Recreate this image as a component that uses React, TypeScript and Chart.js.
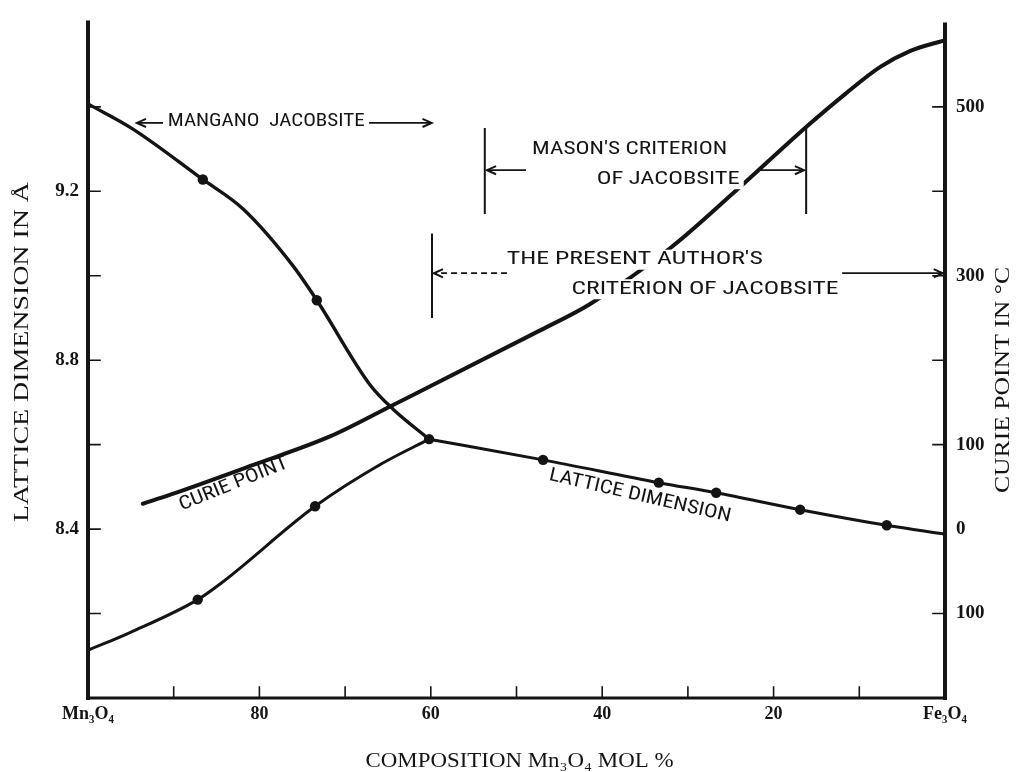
import React, { useEffect, useRef } from "react";
import { Chart, registerables } from "chart.js";

Chart.register(...registerables);

// ---------- data ----------
// composition: Mn3O4 mol %  (100 = Mn3O4, 0 = Fe3O4)
const upperBranchComp = [100, 94.8, 86.6, 81.9, 76.1, 73.3, 67.1, 64.4, 60.2];
const upperBranchLattice = [9.407, 9.348, 9.228, 9.158, 9.024, 8.942, 8.742, 8.684, 8.613];

const lowerBranchComp = [100, 95.1, 87.2, 84.4, 73.5, 65.8, 60.2];
const lowerBranchLattice = [8.113, 8.155, 8.233, 8.273, 8.454, 8.554, 8.613];

const cubicComp = [60.2, 46.9, 33.4, 26.7, 16.9, 6.8, 0];
const cubicLattice = [8.613, 8.564, 8.51, 8.486, 8.446, 8.409, 8.388];

const markerComp = [86.6, 73.3, 60.2, 46.9, 33.4, 26.7, 16.9, 6.8, 87.2, 73.5];
const markerLattice = [9.228, 8.942, 8.613, 8.564, 8.51, 8.486, 8.446, 8.409, 8.233, 8.454];

const curieComp = [93.6, 90.3, 80.7, 71.7, 64.4, 47.3, 41.5, 31.9, 24.8, 16.1, 11.55, 7.6, 4.1, 0];
const curieTemp = [30, 41, 76, 110, 147, 235, 266, 334, 397, 477, 516, 547, 566, 579];

// ---------- axes ----------
const xTickValues = [100, 80, 60, 40, 20, 0];
const xTickLabels = ["Mn\u2083O\u2084", "80", "60", "40", "20", "Fe\u2083O\u2084"];
const xTickMarks = [90, 80, 70, 60, 50, 40, 30, 20, 10];

const latticeTickValues = [9.2, 8.8, 8.4];
const latticeTickLabels = ["9.2", "8.8", "8.4"];
const latticeTickMarks = [8.2, 8.4, 8.6, 8.8, 9.0, 9.2, 9.4];

const curieTickValues = [500, 300, 100, 0, -100];
const curieTickLabels = ["500", "300", "100", "0", "100"];
const curieTickMarks = [-100, 100, 200, 300, 400, 500];

const xTitle = "COMPOSITION Mn\u2083O\u2084 MOL %";
const leftTitle = "LATTICE DIMENSION IN \u00C5";
const rightTitle = "CURIE POINT IN \u00B0C";

const INK = "#141414";
const SERIF = '"Liberation Serif", "DejaVu Serif", serif';
const NARROW = '"Liberation Sans Narrow", "Roboto Condensed", "DejaVu Sans Condensed", "Liberation Sans", sans-serif';

// annotation placement (composition %, temperature on right axis)
const annot = {
  mangano: { y: 481, leftArrow: [91.25, 94.3], textC: 79.2, textW: 197, rightArrow: [67.2, 59.9] },
  mason: {
    bars: [53.7, 16.2], barTop: 475, barBottom: 373,
    arrowY: 425, leftArrow: [48.9, 53.45], rightArrow: [21.8, 16.45],
    line1: { c: 36.8, t: 449.5, w: 195, s: "MASON'S CRITERION" },
    line2: { c: 32.3, t: 414.3, w: 143, s: "OF JACOBSITE" },
  },
  present: {
    bar: 59.86, barTop: 350, barBottom: 250,
    arrowY: 303, leftArrow: [51.1, 59.65], rightArrow: [12.0, 0.25],
    line1: { c: 36.2, t: 319, w: 256, s: "THE PRESENT AUTHOR'S" },
    line2: { c: 28.0, t: 284, w: 267, s: "CRITERION OF JACOBSITE" },
  },
  curieLabel: { c: 83.0, t: 53, w: 116, angle: -22, s: "CURIE POINT" },
  latticeLabel: { c: 35.6, t: 39, w: 186, angle: 13, s: "LATTICE DIMENSION" },
};

function arrowLine(ctx: CanvasRenderingContext2D, x1: number, y1: number, x2: number, y2: number, dash?: number[]) {
  ctx.save();
  ctx.strokeStyle = INK;
  ctx.lineWidth = 1.8;
  ctx.setLineDash(dash || []);
  ctx.beginPath();
  ctx.moveTo(x1, y1);
  ctx.lineTo(x2, y2);
  ctx.stroke();
  ctx.setLineDash([]);
  const ang = Math.atan2(y2 - y1, x2 - x1);
  const L = 10, W = 0.42;
  ctx.lineWidth = 2;
  ctx.beginPath();
  ctx.moveTo(x2 - L * Math.cos(ang - W), y2 - L * Math.sin(ang - W));
  ctx.lineTo(x2, y2);
  ctx.lineTo(x2 - L * Math.cos(ang + W), y2 - L * Math.sin(ang + W));
  ctx.stroke();
  ctx.restore();
}

function fitText(ctx: CanvasRenderingContext2D, s: string, cx: number, cy: number, width: number, font: string, angleDeg = 0, bg = false) {
  ctx.save();
  ctx.font = font;
  const w = ctx.measureText(s).width;
  ctx.translate(cx, cy);
  ctx.rotate((angleDeg * Math.PI) / 180);
  if (bg) {
    ctx.fillStyle = "#ffffff";
    ctx.fillRect(-width / 2 - 4, -10, width + 8, 20);
  }
  ctx.scale(width / w, 1);
  ctx.fillStyle = INK;
  ctx.textAlign = "center";
  ctx.textBaseline = "middle";
  ctx.fillText(s, 0, 0);
  ctx.restore();
}

const decorPlugin = {
  id: "decor",
  afterDatasetsDraw(chart: any) {
    const { ctx, chartArea, scales } = chart;
    const x = scales.x, yl = scales.y, yr = scales.y2;
    const px = (c: number) => x.getPixelForValue(c);
    const pt = (t: number) => yr.getPixelForValue(t);
    const annFont = `19px ${NARROW}`;

    // frame (left, right, bottom)
    ctx.save();
    ctx.strokeStyle = INK;
    ctx.lineCap = "square";
    ctx.lineWidth = 4;
    ctx.beginPath();
    ctx.moveTo(chartArea.left, chartArea.top);
    ctx.lineTo(chartArea.left, chartArea.bottom);
    ctx.moveTo(chartArea.right, chartArea.top + 2);
    ctx.lineTo(chartArea.right, chartArea.bottom);
    ctx.stroke();
    ctx.lineWidth = 3;
    ctx.beginPath();
    ctx.moveTo(chartArea.left, chartArea.bottom);
    ctx.lineTo(chartArea.right, chartArea.bottom);
    ctx.stroke();

    // inward tick marks
    ctx.lineWidth = 1.6;
    ctx.beginPath();
    latticeTickMarks.forEach((v) => {
      const y = yl.getPixelForValue(v);
      ctx.moveTo(chartArea.left, y);
      ctx.lineTo(chartArea.left + 12, y);
    });
    curieTickMarks.forEach((v) => {
      const y = yr.getPixelForValue(v);
      ctx.moveTo(chartArea.right, y);
      ctx.lineTo(chartArea.right - 12, y);
    });
    xTickMarks.forEach((v) => {
      const xx = x.getPixelForValue(v);
      ctx.moveTo(xx, chartArea.bottom);
      ctx.lineTo(xx, chartArea.bottom - 11);
    });
    ctx.stroke();
    ctx.restore();

    // Mangano jacobsite
    const m = annot.mangano;
    arrowLine(ctx, px(m.leftArrow[0]), pt(m.y), px(m.leftArrow[1]), pt(m.y));
    fitText(ctx, "MANGANO  JACOBSITE", px(m.textC), pt(m.y) - 2, m.textW, annFont);
    arrowLine(ctx, px(m.rightArrow[0]), pt(m.y), px(m.rightArrow[1]), pt(m.y));

    // Mason's criterion
    const ms = annot.mason;
    ctx.save();
    ctx.strokeStyle = INK;
    ctx.lineWidth = 2;
    ctx.beginPath();
    ms.bars.forEach((c) => {
      ctx.moveTo(px(c), pt(ms.barTop));
      ctx.lineTo(px(c), pt(ms.barBottom));
    });
    ctx.stroke();
    ctx.restore();
    fitText(ctx, ms.line1.s, px(ms.line1.c), pt(ms.line1.t), ms.line1.w, annFont, 0, true);
    fitText(ctx, ms.line2.s, px(ms.line2.c), pt(ms.line2.t), ms.line2.w, annFont, 0, true);
    arrowLine(ctx, px(ms.leftArrow[0]), pt(ms.arrowY), px(ms.leftArrow[1]), pt(ms.arrowY));
    arrowLine(ctx, px(ms.rightArrow[0]), pt(ms.arrowY), px(ms.rightArrow[1]), pt(ms.arrowY));

    // present author's criterion
    const pr = annot.present;
    ctx.save();
    ctx.strokeStyle = INK;
    ctx.lineWidth = 2;
    ctx.beginPath();
    ctx.moveTo(px(pr.bar), pt(pr.barTop));
    ctx.lineTo(px(pr.bar), pt(pr.barBottom));
    ctx.stroke();
    ctx.restore();
    fitText(ctx, pr.line1.s, px(pr.line1.c), pt(pr.line1.t), pr.line1.w, annFont, 0, true);
    fitText(ctx, pr.line2.s, px(pr.line2.c), pt(pr.line2.t), pr.line2.w, annFont, 0, true);
    arrowLine(ctx, px(pr.leftArrow[0]), pt(pr.arrowY), px(pr.leftArrow[1]), pt(pr.arrowY), [6, 4]);
    arrowLine(ctx, px(pr.rightArrow[0]), pt(pr.arrowY), px(pr.rightArrow[1]), pt(pr.arrowY));

    // curve labels
    const cl = annot.curieLabel;
    fitText(ctx, cl.s, px(cl.c), pt(cl.t), cl.w, annFont, cl.angle);
    const ll = annot.latticeLabel;
    fitText(ctx, ll.s, px(ll.c), pt(ll.t), ll.w, annFont, ll.angle);

    // axis titles
    const titleFont = `21px ${SERIF}`;
    fitText(ctx, xTitle, (chartArea.left + chartArea.right) / 2 + 3, 761, 308, titleFont);
    ctx.save();
    ctx.translate(22, 352);
    ctx.rotate(-Math.PI / 2);
    fitText(ctx, leftTitle, 0, 0, 340, titleFont);
    ctx.restore();
    ctx.save();
    ctx.translate(1003, 380);
    ctx.rotate(-Math.PI / 2);
    fitText(ctx, rightTitle, 0, 0, 226, titleFont);
    ctx.restore();
  },
};

export default function App() {
  const canvasRef = useRef<HTMLCanvasElement | null>(null);

  useEffect(() => {
    const canvas = canvasRef.current;
    if (!canvas) return;
    const pts = (xs: number[], ys: number[]) => xs.map((v, i) => ({ x: v, y: ys[i] }));
    const lineDs = (label: string, xs: number[], ys: number[], axis: string, width: number) => ({
      type: "line" as const,
      label,
      data: pts(xs, ys),
      yAxisID: axis,
      borderColor: INK,
      borderWidth: width,
      pointRadius: 0,
      fill: false,
      cubicInterpolationMode: "monotone" as const,
      borderCapStyle: "round" as const,
    });

    const chart = new Chart(canvas, {
      type: "line",
      data: {
        datasets: [
          lineDs("Lattice (upper branch)", upperBranchComp, upperBranchLattice, "y", 3.4),
          lineDs("Lattice (lower branch)", lowerBranchComp, lowerBranchLattice, "y", 3),
          lineDs("Lattice (cubic)", cubicComp, cubicLattice, "y", 3),
          lineDs("Curie point", curieComp, curieTemp, "y2", 4),
          {
            type: "scatter" as const,
            label: "Measured lattice",
            data: pts(markerComp, markerLattice),
            yAxisID: "y",
            pointRadius: 5.2,
            pointBackgroundColor: INK,
            pointBorderColor: INK,
            pointBorderWidth: 0,
            showLine: false,
          } as any,
        ],
      },
      options: {
        responsive: false,
        animation: false,
        layout: { padding: { top: 16, left: 0, right: 0, bottom: 0 } },
        plugins: { legend: { display: false }, tooltip: { enabled: false } },
        scales: {
          x: {
            type: "linear",
            reverse: true,
            min: 0,
            max: 100,
            position: "bottom",
            afterFit: (s: any) => { s.height = 74; },
            afterBuildTicks: (s: any) => { s.ticks = xTickValues.map((v) => ({ value: v })); },
            grid: { display: false, drawTicks: false },
            border: { display: false },
            ticks: {
              autoSkip: false,
              maxRotation: 0,
              padding: 6,
              color: INK,
              font: { family: SERIF, size: 18, weight: "bold" },
              callback: (_v: any, i: number) => xTickLabels[i],
            },
          },
          y: {
            type: "linear",
            position: "left",
            min: 8.0,
            max: 9.6,
            afterFit: (s: any) => { s.width = 88; },
            afterBuildTicks: (s: any) => { s.ticks = latticeTickValues.map((v) => ({ value: v })); },
            grid: { display: false, drawTicks: false },
            border: { display: false },
            ticks: {
              padding: 9,
              color: INK,
              font: { family: SERIF, size: 19, weight: "bold" },
              callback: (_v: any, i: number) => latticeTickLabels[i],
            },
          },
          y2: {
            type: "linear",
            position: "right",
            min: -200,
            max: 600,
            afterFit: (s: any) => { s.width = 77; },
            afterBuildTicks: (s: any) => { s.ticks = curieTickValues.map((v) => ({ value: v })); },
            grid: { display: false, drawTicks: false },
            border: { display: false },
            ticks: {
              padding: 11,
              color: INK,
              font: { family: SERIF, size: 19, weight: "bold" },
              callback: (_v: any, i: number) => curieTickLabels[i],
            },
          },
        },
      } as any,
      plugins: [decorPlugin],
    });
    return () => chart.destroy();
  }, []);

  return (
    <div style={{ position: "absolute", left: 0, top: 0, width: 1022, height: 772, background: "#fff" }}>
      <canvas ref={canvasRef} width={1022} height={772} />
    </div>
  );
}
